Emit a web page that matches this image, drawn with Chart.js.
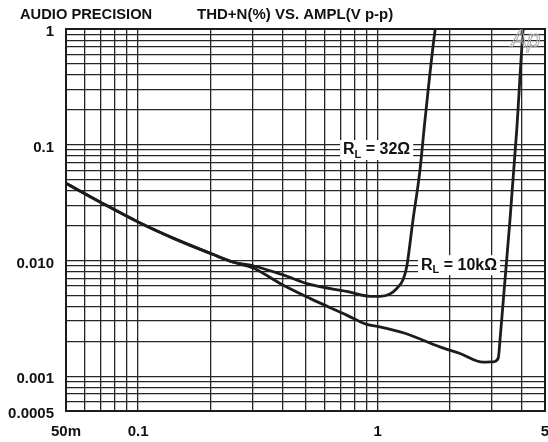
<!DOCTYPE html>
<html>
<head>
<meta charset="utf-8">
<style>
  html, body { margin: 0; padding: 0; background: #fff; }
  #wrap { width: 548px; height: 442px; position: relative; }
</style>
<script src="https://cdn.jsdelivr.net/npm/chart.js@4/dist/chart.umd.min.js"></script>
</head>
<body>
<div id="wrap"><canvas id="c" width="548" height="442"></canvas></div>
<script>
// ---- data ----
const ampl32 = [0.05, 0.069, 0.10, 0.14, 0.205, 0.248, 0.302, 0.403, 0.522, 0.743, 0.93, 1.02, 1.12, 1.20, 1.277, 1.323, 1.405, 1.503, 1.577, 1.74, 1.80];
const thd32  = [0.0464, 0.0322, 0.0215, 0.0156, 0.0113, 0.0097, 0.0090, 0.0075, 0.0062, 0.0054, 0.0049, 0.0049, 0.0051, 0.0057, 0.0068, 0.0088, 0.0223, 0.0604, 0.163, 1.0, 1.5];

const ampl10k = [0.05, 0.069, 0.10, 0.14, 0.205, 0.248, 0.302, 0.404, 0.522, 0.743, 0.90, 1.02, 1.30, 1.82, 2.21, 2.76, 3.04, 3.19, 3.244, 3.349, 3.57, 3.81, 4.05, 4.15];
const thd10k  = [0.0464, 0.0322, 0.0215, 0.0156, 0.0113, 0.0097, 0.0086, 0.0061, 0.0047, 0.00337, 0.0028, 0.00267, 0.00235, 0.00179, 0.00157, 0.00132, 0.00133, 0.00143, 0.00205, 0.00455, 0.0223, 0.134, 0.98, 1.5];

const xGridValues = [0.05, 0.06, 0.07, 0.08, 0.09, 0.1, 0.2, 0.3, 0.4, 0.5, 0.6, 0.7, 0.8, 0.9, 1, 2, 3, 4, 5];
const xTickLabels = { 0.05: '50m', 0.1: '0.1', 1: '1', 5: '5' };
const yGridValues = [0.0005, 0.0006, 0.0007, 0.0008, 0.0009, 0.001, 0.002, 0.003, 0.004, 0.005, 0.006, 0.007, 0.008, 0.009,
                     0.01, 0.02, 0.03, 0.04, 0.05, 0.06, 0.07, 0.08, 0.09, 0.1, 0.2, 0.3, 0.4, 0.5, 0.6, 0.7, 0.8, 0.9, 1];
const yTickLabels = { 0.0005: '0.0005', 0.001: '0.001', 0.01: '0.010', 0.1: '0.1', 1: '1' };

const titleLeft = 'AUDIO PRECISION';
const titleMain = 'THD+N(%) VS. AMPL(V p-p)';
const seriesNames = ['32Ω', '10kΩ'];

// ---- styling ----
const FONT = '"Liberation Sans", Arial, Helvetica, sans-serif';
const INK = '#1c1c1c';
const GRID = '#262626';

function pts(xs, ys) { return xs.map((x, i) => ({ x: x, y: ys[i] })); }
function lookup(map, v) {
  for (const k in map) { if (Math.abs(Number(k) - v) / v < 1e-6) return map[k]; }
  return '';
}

const decorPlugin = {
  id: 'decor',
  afterDraw(chart) {
    const ctx = chart.ctx;
    const a = chart.chartArea;
    const xs = chart.scales.x, ys = chart.scales.y;
    ctx.save();
    // frame
    ctx.strokeStyle = INK;
    ctx.lineWidth = 2;
    ctx.strokeRect(a.left, a.top, a.right - a.left, a.bottom - a.top);
    // titles
    ctx.fillStyle = '#111';
    ctx.textBaseline = 'middle';
    ctx.textAlign = 'left';
    ctx.font = 'bold 14.7px ' + FONT;
    ctx.fillText(titleLeft, 20, 15);
    ctx.font = 'bold 15px ' + FONT;
    ctx.fillText(titleMain, 197, 15);
    // Ap logo
    ctx.font = 'italic 24px ' + FONT;
    ctx.textBaseline = 'alphabetic';
    ctx.strokeStyle = '#a8a8a8';
    ctx.lineWidth = 1;
    ctx.strokeText('Ap', 511, 47);
    // curve labels
    const labels = [
      { name: seriesNames[0], x: 0.697, y: 0.09 },
      { name: seriesNames[1], x: 1.475, y: 0.0091 }
    ];
    labels.forEach(l => {
      const px = xs.getPixelForValue(l.x);
      const py = ys.getPixelForValue(l.y);
      ctx.font = 'bold 16px ' + FONT;
      const wR = ctx.measureText('R').width;
      ctx.font = 'bold 11px ' + FONT;
      const wL = ctx.measureText('L').width;
      ctx.font = 'bold 16px ' + FONT;
      const rest = ' = ' + l.name;
      const wRest = ctx.measureText(rest).width;
      const w = wR + wL + wRest + 6;
      ctx.fillStyle = '#fff';
      ctx.fillRect(px, py - 10, w, 20);
      ctx.fillStyle = '#111';
      ctx.textAlign = 'left';
      ctx.textBaseline = 'middle';
      let cx = px + 3;
      ctx.fillText('R', cx, py);
      cx += wR;
      ctx.font = 'bold 11px ' + FONT;
      ctx.fillText('L', cx, py + 5);
      cx += wL;
      ctx.font = 'bold 16px ' + FONT;
      ctx.fillText(rest, cx, py);
    });
    ctx.restore();
  }
};

new Chart(document.getElementById('c'), {
  type: 'line',
  data: {
    datasets: [
      { label: seriesNames[0], data: pts(ampl32, thd32) },
      { label: seriesNames[1], data: pts(ampl10k, thd10k) }
    ]
  },
  options: {
    responsive: false,
    devicePixelRatio: 1,
    animation: false,
    layout: { padding: { left: 0, top: 29, right: 3, bottom: 0 } },
    elements: {
      point: { radius: 0 },
      line: { borderColor: INK, borderWidth: 2.8, cubicInterpolationMode: 'monotone', fill: false }
    },
    plugins: { legend: { display: false }, tooltip: { enabled: false }, title: { display: false } },
    scales: {
      x: {
        type: 'logarithmic',
        min: 0.05, max: 5,
        afterBuildTicks(s) { s.ticks = xGridValues.map(v => ({ value: v })); },
        afterFit(s) { s.height = 31; s.paddingLeft = 0; s.paddingRight = 0; },
        grid: { color: GRID, lineWidth: 1.3, drawTicks: false },
        border: { display: false },
        ticks: {
          autoSkip: false, maxRotation: 0, minRotation: 0, padding: 12,
          color: '#111', font: { family: FONT, size: 15, weight: 'bold' },
          callback: (v) => lookup(xTickLabels, v)
        }
      },
      y: {
        type: 'logarithmic',
        min: 0.0005, max: 1,
        afterBuildTicks(s) { s.ticks = yGridValues.map(v => ({ value: v })); },
        afterFit(s) { s.width = 66; s.paddingTop = 0; s.paddingBottom = 0; },
        grid: { color: GRID, lineWidth: 1.3, drawTicks: false },
        border: { display: false },
        ticks: {
          autoSkip: false, padding: 12, labelOffset: 3,
          color: '#111', font: { family: FONT, size: 15, weight: 'bold' },
          callback: (v) => lookup(yTickLabels, v)
        }
      }
    }
  },
  plugins: [decorPlugin]
});
</script>
</body>
</html>
